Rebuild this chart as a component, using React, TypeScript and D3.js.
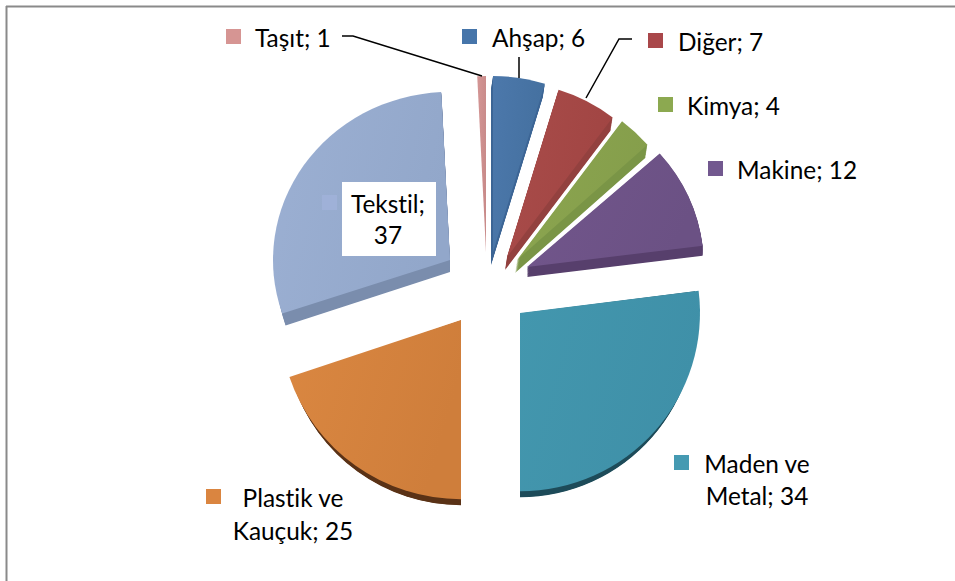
import React from "react";
import * as d3lib from "d3";

// ---- data, in pie order (clockwise from 12 o'clock)
const categories = ["Ahşap", "Diğer", "Kimya", "Makine", "Maden ve Metal", "Plastik ve Kauçuk", "Tekstil", "Taşıt"];
const values = [6, 7, 4, 12, 34, 25, 37, 1];
const labelLines = [["Ahşap; 6"], ["Diğer; 7"], ["Kimya; 4"], ["Makine; 12"], ["Maden ve", "Metal; 34"], ["Plastik ve", "Kauçuk; 25"], ["Tekstil;", "37"], ["Taşıt; 1"]];

// ---- styling and layout, index-aligned with the data
const topLeft = ["#4c78ab", "#a94c4a", "#8ca650", "#72568c", "#4397ae", "#da8741", "#9cb0d3", "#d49695"];
const topRight = ["#44709f", "#a14543", "#859e4b", "#6b5184", "#3f90a8", "#cf7e3b", "#92a7ca", "#c98b8a"];
const wallColors = ["#3c6595", "#93413f", "#7a9546", "#573f6c", "#1d4b59", "#5a3216", "#7a8dad", "#a86f6e"];
const keyColors = ["#4675aa", "#a9474a", "#8ca950", "#72588f", "#459ab2", "#da8540", "#9fb1d8", "#d69593"];
const apexX = [493, 507, 517, 527, 520, 461, 450, 486];
const apexY = [252, 257, 260, 267, 313, 320, 260, 252];
const radii = [176, 175, 174, 177, 180, 181, 177, 176];
const yScale = [1, 1, 1, 0.97, 0.99, 0.99, 0.95, 1];
const wallX = [-2, -2, -2, 0, 0, 0, 0, 0];
const wallY = [13, 13, 13, 10, 6, 6, 12, 0];
const wallShrink = [1, 1, 1, 1, 0.98, 0.98, 0.98, 1];
const keyX = [462, 648, 658, 708, 674, 206, 322, 226];
const keyY = [29, 33, 97, 161, 455, 489, 195, 29];
const textX = [492, 678, 687, 737, 757, 293, 388, 255];
const textY = [47, 51, 115, 179, 473, 507, 213, 47];
const textCentered = [false, false, false, false, true, true, true, false];
const lineGaps = [0, 0, 0, 0, 32, 33, 31, 0];

// ---- leader lines
const leaderTasit: [number, number][] = [[342, 36], [353, 36], [482, 76]];
const leaderAhsap: [number, number][] = [[519, 57], [519, 78]];
const leaderDiger: [number, number][] = [[632, 39], [619, 39], [586, 98]];
const leaders = [leaderTasit, leaderAhsap, leaderDiger];

const WALL_STEPS = 14;
const FONT = "Lato, Carlito, Calibri, sans-serif";

export default function App() {
  const pie = d3lib.pie<number>().sort(null).value((d) => d);
  const arcs = pie(values);
  const line = d3lib.line();
  const arcPath = (i: number) =>
    d3lib.arc()({ innerRadius: 0, outerRadius: radii[i], startAngle: arcs[i].startAngle, endAngle: arcs[i].endAngle } as any) as string;

  return (
    <svg width={955} height={581} style={{ position: "absolute", left: 0, top: 0, background: "#fff" }}>
      <defs>
        {categories.map((_, i) => (
          <linearGradient key={i} id={`g${i}`} x1="0" y1="0" x2="1" y2="0.3">
            <stop offset="0" stopColor={topLeft[i]} />
            <stop offset="1" stopColor={topRight[i]} />
          </linearGradient>
        ))}
      </defs>
      <rect x={0} y={0} width={955} height={581} fill="#fff" />
      <line x1={6} y1={6.5} x2={955} y2={6.5} stroke="#8a8a8a" strokeWidth={2} />
      <line x1={6.5} y1={6} x2={6.5} y2={581} stroke="#8a8a8a" strokeWidth={2} />

      {arcs.map((_, i) => {
        const d = arcPath(i);
        const walls = wallY[i] === 0 ? [] : d3lib.range(1, WALL_STEPS + 1);
        return (
          <g key={i}>
            {walls.map((k) => (
              <path
                key={k}
                d={d}
                fill={wallColors[i]}
                transform={`translate(${apexX[i] + (wallX[i] * k) / WALL_STEPS},${apexY[i] + (wallY[i] * k) / WALL_STEPS}) scale(${wallShrink[i]},${yScale[i]})`}
              />
            ))}
            <path d={d} fill={`url(#g${i})`} transform={`translate(${apexX[i]},${apexY[i]}) scale(1,${yScale[i]})`} />
          </g>
        );
      })}

      {leaders.map((pts, i) => (
        <path key={i} d={line(pts) as string} fill="none" stroke="#000" strokeWidth={1.5} />
      ))}

      <rect x={342} y={182} width={94} height={74} fill="#fff" />

      {categories.map((_, i) => (
        <rect key={i} x={keyX[i]} y={keyY[i]} width={15} height={15} fill={keyColors[i]} />
      ))}

      {labelLines.map((lines, i) => (
        <text key={i} fontFamily={FONT} fontSize={24.4} fill="#000" style={{ fontVariantLigatures: "none" }} textAnchor={textCentered[i] ? "middle" : "start"}>
          {lines.map((s, j) => (
            <tspan key={j} x={textX[i]} y={textY[i] + j * lineGaps[i]}>
              {s}
            </tspan>
          ))}
        </text>
      ))}
    </svg>
  );
}
